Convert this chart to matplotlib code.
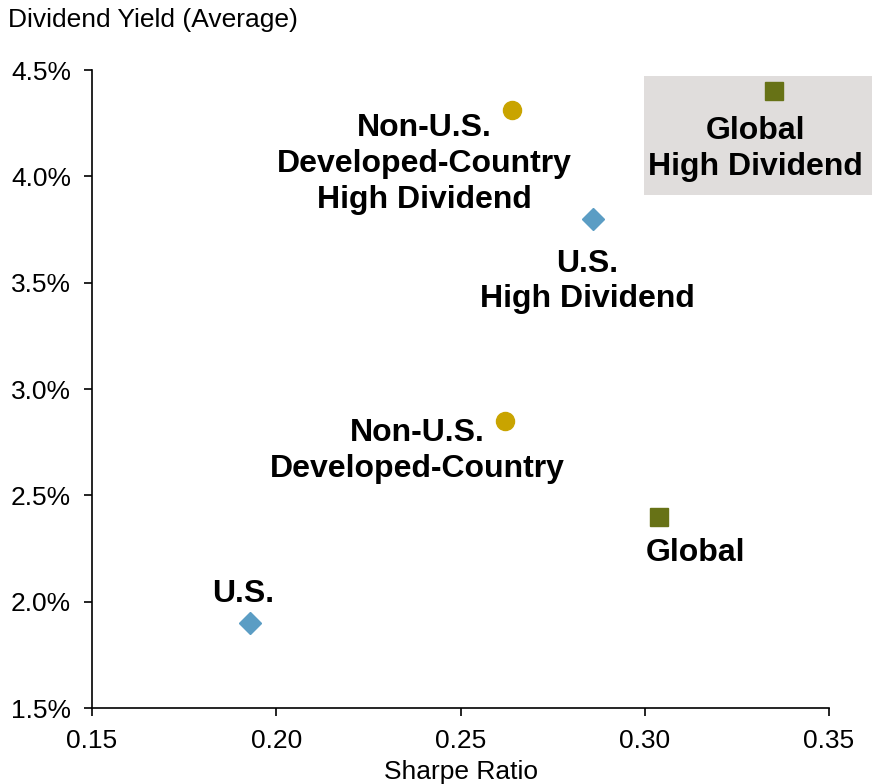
import matplotlib.pyplot as plt
from matplotlib.patches import Rectangle
from matplotlib.ticker import FuncFormatter

plt.rcParams['font.family'] = ['Liberation Sans', 'DejaVu Sans']

labels = ['U.S.', 'U.S.\nHigh Dividend',
          'Non-U.S.\nDeveloped-Country', 'Non-U.S.\nDeveloped-Country\nHigh Dividend',
          'Global', 'Global\nHigh Dividend']
sharpe = [0.193, 0.286, 0.262, 0.264, 0.304, 0.335]
div_yield = [1.90, 3.80, 2.85, 4.31, 2.40, 4.40]
markers = ['D', 'D', 'o', 'o', 's', 's']
colors = ['#5B9DC4', '#5B9DC4', '#C9A400', '#C9A400', '#677216', '#677216']
# label offsets (points) relative to each marker
offsets = [(-5, 21), (-4, -45), (-63, -21.5), (-63, -38.5), (26, -26), (-13, -41.5)]

fig = plt.figure(figsize=(8.72, 7.84), dpi=100)
ax = fig.add_axes([0.1055, 0.0969, 0.8452, 0.8138])
ax.patch.set_alpha(0)

# shaded box behind the highlighted point
fig.patches.append(Rectangle((0.7385, 0.751), 0.2615, 0.152, transform=fig.transFigure,
                             facecolor='#E0DDDC', edgecolor='none', zorder=-1))

for x, y, m, c, lab, off in zip(sharpe, div_yield, markers, colors, labels, offsets):
    ms = 11 if m == 'D' else 13
    ax.plot(x, y, marker=m, color=c, markersize=ms, linestyle='none', zorder=3)
    ax.annotate(lab, (x, y), xytext=off, textcoords='offset points',
                ha='center', va='center', fontsize=23, fontweight='bold',
                linespacing=1.25)

ax.set_xlim(0.15, 0.35)
ax.set_ylim(1.5, 4.5)
ax.set_xticks([0.15, 0.20, 0.25, 0.30, 0.35])
ax.set_yticks([1.5, 2.0, 2.5, 3.0, 3.5, 4.0, 4.5])
ax.xaxis.set_major_formatter(FuncFormatter(lambda v, p: f'{v:.2f}'))
ax.yaxis.set_major_formatter(FuncFormatter(lambda v, p: f'{v:.1f}%'))
ax.tick_params(axis='both', direction='out', length=6, width=1.2, labelsize=19, pad=9)
for s in ['top', 'right']:
    ax.spines[s].set_visible(False)
for s in ['left', 'bottom']:
    ax.spines[s].set_linewidth(1.2)

ax.set_xlabel('Sharpe Ratio', fontsize=19, labelpad=5)
fig.text(0.009, 0.974, 'Dividend Yield (Average)', fontsize=19, ha='left', va='center')

fig.savefig('out.png', dpi=100)
